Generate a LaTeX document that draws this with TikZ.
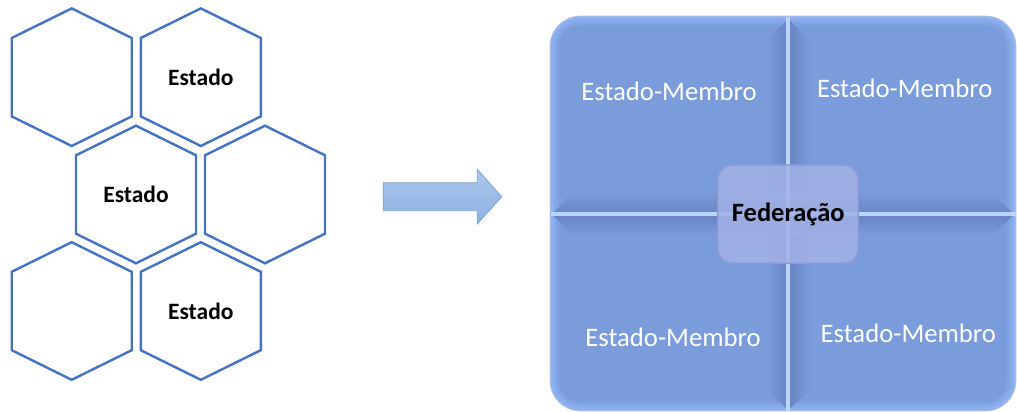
\documentclass[tikz,border=0pt]{standalone}
\usepackage{fontspec}
\setmainfont{Carlito}
\usetikzlibrary{calc}
\definecolor{hexblue}{HTML}{4472C4}
\definecolor{panelmain}{HTML}{7B9CDB}
\definecolor{panelrim}{HTML}{8DB3F3}
\definecolor{banddark}{HTML}{6784C3}
\definecolor{divlight}{HTML}{BCD3FA}
\definecolor{boxfill}{HTML}{A2B2E5}
\definecolor{boxedge}{HTML}{8A9BD3}
\definecolor{arrtop}{HTML}{ACC7EC}
\definecolor{arrbot}{HTML}{8EB1E3}
\definecolor{arredge}{HTML}{7BA2D9}
\begin{document}
\begin{tikzpicture}[x=1pt,y=-1pt,
  hexcell/.style={circle,inner sep=0pt,minimum size=2pt,font=\fontsize{23.5}{28}\selectfont\bfseries},
  hexline/.style={draw=hexblue,line width=2.4pt,line join=miter},
  member/.style={anchor=base,inner sep=0pt,text=white,font=\fontsize{26.7}{30}\selectfont},
  fedbox/.style={draw=boxedge,line width=1.2pt,fill=boxfill,fill opacity=0.85,rounded corners=15pt}
]
\useasboundingbox (0,0) rectangle (1017,412);
% ---------- hexagons ----------
\node[hexcell] (h1) at (71.7,77.2) {};
\node[hexcell] (h2) at (200.8,77.2) {\raisebox{-1pt}{Estado}};
\node[hexcell] (h3) at (136,194.5) {\raisebox{-1pt}{Estado}};
\node[hexcell] (h4) at (265,194.5) {};
\node[hexcell] (h5) at (71.7,311) {};
\node[hexcell] (h6) at (200.8,311) {\raisebox{-1pt}{Estado}};
\foreach \n in {h1,h2,h3,h4,h5,h6}{
  \draw[hexline] ($(\n.center)+(0,-68.8)$) -- ($(\n.center)+(60,-39.2)$)
    -- ($(\n.center)+(60,39.2)$) -- ($(\n.center)+(0,68.8)$)
    -- ($(\n.center)+(-60,39.2)$) -- ($(\n.center)+(-60,-39.2)$) -- cycle;
}
% ---------- block arrow ----------
\shade[top color=arrtop,bottom color=arrbot,draw=arredge,line width=0.8pt]
  (383.3,182.7) -- (477.3,182.7) -- (477.3,169.3) -- (501.7,196.7)
  -- (477.3,224) -- (477.3,210.7) -- (383.3,210.7) -- cycle;
% ---------- panel ----------
\fill[panelrim] (550,16) [rounded corners=30pt] rectangle (1016,411);
\fill[panelrim!66!panelmain] (553,19) [rounded corners=27pt] rectangle (1013,408);
\fill[panelrim!33!panelmain] (556,22) [rounded corners=24pt] rectangle (1010,405);
\fill[panelmain] (559,25) [rounded corners=21pt] rectangle (1007,402);
\draw[color=gray!40,line width=0.6pt] (550,16) [rounded corners=30pt] rectangle (1016,411);
% bevel bands
\shade[left color=panelmain,right color=banddark]
  (788.3,19) -- (766,41) -- (766,389) -- (788.3,410) -- cycle;
\shade[left color=banddark,right color=panelmain]
  (788.3,19) -- (810.6,41) -- (810.6,389) -- (788.3,410) -- cycle;
\shade[top color=panelmain,bottom color=banddark]
  (552,214.3) -- (574,192) -- (992,192) -- (1014,214.3) -- cycle;
\shade[top color=banddark,bottom color=panelmain]
  (552,214.3) -- (574,236.6) -- (992,236.6) -- (1014,214.3) -- cycle;
% divider lines
\coordinate (vt) at (788.3,17);
\coordinate (vb) at (788.3,411);
\coordinate (hl) at (551,214.3);
\coordinate (hr) at (1016,214.3);
\draw[divlight,line width=4pt] (vt) -- (vb);
\draw[divlight,line width=4pt] (hl) -- (hr);
% centre box
\draw[fedbox] (717.7,165) rectangle (858.3,263.3);
\node[anchor=base,inner sep=0pt,font=\fontsize{26.5}{30}\selectfont\bfseries] (fed) at (788.3,221) {Federação};
% member texts
\node[member] (m1) at (669,100.7) {Estado-Membro};
\node[member] (m2) at (904.7,97.3) {Estado-Membro};
\node[member] (m3) at (673,346.7) {Estado-Membro};
\node[member] (m4) at (908.3,342.7) {Estado-Membro};
\end{tikzpicture}
\end{document}
